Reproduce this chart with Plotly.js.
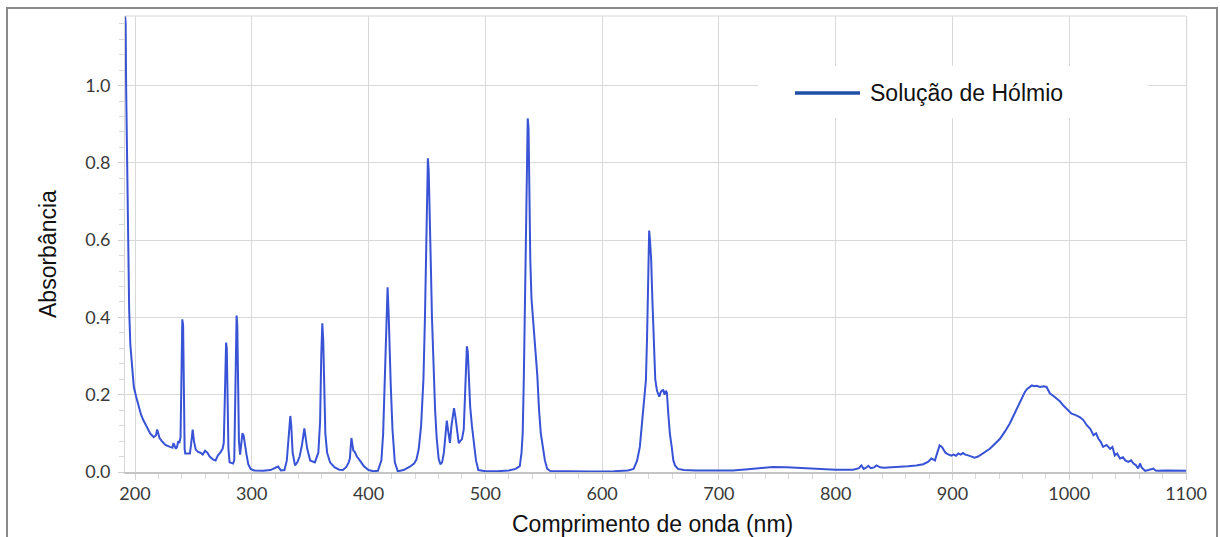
<!DOCTYPE html>
<html>
<head>
<meta charset="utf-8">
<script src="https://cdn.plot.ly/plotly-3.0.1.min.js"></script>
<style>html,body{margin:0;padding:0;background:#fff;}#chart{width:1220px;height:537px;}</style>
</head>
<body>
<div id="chart"></div>
<script>
// Wavelength (nm) and absorbance
const wavelength = [
191.5,192,192.4,193,193.4,194,195,196,197.5,199,201,203,205,207,210,213,216,218,219,220,221,223,226,230,232,233,234,235,236,237,238,239,239.8,240.5,241.2,241.8,242.5,243,247,248,249.4,250.5,252,254,256,258,260,262,264,267,269,271,273,275,276,277,278,278.6,279.3,280,281,284,285,286,287,287.6,288.4,289,290,291,292,293,294,295.5,297,299,302,310,316,320,322.5,325,328,330,331.5,333,333.8,335,337,339,341,343,345,346,347.5,350,354,357,358.5,359.5,360.4,361.2,362,363,364.5,367,371,375,378,381,383,384,385.3,386,387,388,390,392.5,396,400,404,408,411,412.5,413.5,415,416.3,417.2,418,419,420.5,422.5,425,430,435,439,441,443,445,447,448.3,449.3,450.3,450.8,451.5,452.3,453.3,454.3,455.4,457,458.3,460,461.5,463,464.5,466,467,468,469,469.7,471,472.5,473.2,474.5,475.5,477.2,478.5,480,481.5,482.5,483.5,484.2,485,486,487,488.5,490,492,494,500,510,520,526,529.5,531,532,533,534,535.3,536.3,537,537.8,538.5,539.5,540.5,541.5,543,544.5,546,547.5,549,551,553,556,570,590,610,622,627,630,632.3,635,637.5,638.5,639,639.5,640.3,641,642,643,644,645.5,647,648,649,650,651,652.3,653.5,654.5,655.5,656.7,658,659.6,661,662.4,665,670,680,700,712,725,735,746,758,765,770,780,790,800,815,820,822,824,826,828,830,833,835,838,841,848,855,862,869,875,879,882,885,887,889,891,892,894,896,899,901,903,905,907,909,911,913.5,916,919,922,925,928,932,936,940.7,945,949,953,956.4,959,962,964,966.4,968,970,972,975,978,980.6,983.5,986,989,992,995,997.7,1000,1002,1005,1009,1012,1015,1018,1020.8,1023,1025,1027,1029,1032,1035,1037,1039,1041,1043.5,1046,1048,1050.6,1053,1055,1057,1059,1060.6,1062,1065,1068,1072,1074,1076,1083,1090,1100
];
const absorbance = [
1.18,1.16,1.0,0.84,0.7,0.55,0.42,0.33,0.26,0.22,0.195,0.17,0.15,0.135,0.118,0.1,0.09,0.095,0.11,0.1,0.088,0.08,0.07,0.065,0.063,0.075,0.068,0.06,0.065,0.08,0.075,0.09,0.25,0.395,0.38,0.2,0.06,0.048,0.048,0.07,0.11,0.08,0.058,0.052,0.05,0.045,0.055,0.05,0.04,0.032,0.03,0.043,0.05,0.06,0.075,0.2,0.335,0.32,0.22,0.06,0.025,0.022,0.03,0.25,0.405,0.38,0.2,0.08,0.045,0.085,0.1,0.095,0.07,0.045,0.02,0.008,0.004,0.003,0.005,0.01,0.014,0.004,0.005,0.03,0.08,0.145,0.12,0.05,0.017,0.025,0.04,0.07,0.113,0.09,0.06,0.03,0.025,0.05,0.13,0.3,0.385,0.34,0.2,0.1,0.05,0.025,0.012,0.006,0.005,0.013,0.025,0.035,0.088,0.07,0.055,0.053,0.04,0.03,0.015,0.005,0.002,0.003,0.03,0.1,0.2,0.38,0.478,0.41,0.3,0.225,0.11,0.025,0.002,0.005,0.013,0.022,0.032,0.06,0.12,0.24,0.4,0.6,0.8,0.812,0.78,0.7,0.54,0.4,0.28,0.16,0.09,0.035,0.02,0.025,0.05,0.1,0.133,0.11,0.085,0.075,0.12,0.15,0.165,0.14,0.11,0.075,0.08,0.085,0.11,0.2,0.3,0.325,0.31,0.24,0.17,0.12,0.08,0.03,0.005,0.002,0.002,0.004,0.008,0.015,0.05,0.1,0.25,0.45,0.75,0.915,0.89,0.7,0.55,0.45,0.4,0.37,0.31,0.25,0.16,0.1,0.07,0.03,0.008,0.002,0.002,0.001,0.002,0.004,0.008,0.03,0.065,0.15,0.237,0.35,0.45,0.57,0.625,0.6,0.55,0.45,0.34,0.24,0.21,0.2,0.195,0.205,0.21,0.212,0.2,0.21,0.205,0.15,0.1,0.065,0.03,0.017,0.008,0.005,0.004,0.004,0.004,0.007,0.009,0.013,0.012,0.011,0.009,0.007,0.006,0.006,0.006,0.01,0.017,0.008,0.011,0.016,0.01,0.012,0.017,0.012,0.011,0.012,0.013,0.015,0.017,0.02,0.026,0.035,0.03,0.05,0.069,0.065,0.06,0.05,0.046,0.042,0.045,0.042,0.048,0.045,0.049,0.045,0.043,0.04,0.037,0.04,0.046,0.052,0.06,0.072,0.086,0.105,0.125,0.15,0.172,0.19,0.207,0.215,0.22,0.224,0.222,0.223,0.22,0.222,0.22,0.203,0.198,0.19,0.183,0.172,0.164,0.158,0.151,0.148,0.142,0.135,0.121,0.112,0.095,0.1,0.086,0.078,0.065,0.07,0.06,0.065,0.043,0.048,0.035,0.038,0.03,0.026,0.03,0.022,0.018,0.009,0.022,0.012,0.003,0.005,0.009,0.004,0.003,0.004,0.003,0.003
];
const xTickValues = [200,300,400,500,600,700,800,900,1000,1100];
const yTickValues = [0.0,0.2,0.4,0.6,0.8,1.0];
const seriesName = 'Solução de Hólmio';
const xTitle = 'Comprimento de onda (nm)';
const yTitle = 'Absorbância';

const trace = {
  x: wavelength, y: absorbance, type: 'scatter', mode: 'lines',
  name: seriesName, showlegend: false,
  line: {color: '#3953d6', width: 2}
};

const W = 1220, H = 537;
const L = 125, R = 34, T = 16, B = 65;
const pw = W - L - R, ph = H - T - B;
const px = v => (v - L) / pw;          // pixel x -> paper
const py = v => (H - B - v) / ph;      // pixel y -> paper

const layout = {
  width: W, height: H,
  margin: {l: L, r: R, t: T, b: B},
  paper_bgcolor: '#ffffff', plot_bgcolor: '#ffffff',
  showlegend: false,
  xaxis: {
    range: [191.44, 1100], tickvals: xTickValues, ticktext: xTickValues.map(String),
    showgrid: true, gridcolor: '#d9d9d9', gridwidth: 1,
    showline: true, linecolor: '#c4c4c4', linewidth: 2, mirror: false,
    zeroline: false,
    ticks: 'outside', ticklen: 6, tickcolor: '#d0d0d0', tickwidth: 1,
    ticklabelstandoff: -2,
    minor: {dtick: 20, ticks: 'outside', ticklen: 5, tickcolor: '#d8d8d8', showgrid: false},
    tickfont: {family: 'Lato, sans-serif', size: 18, color: '#3a3a3a'},
    fixedrange: true
  },
  yaxis: {
    range: [0, 1.18], tickvals: yTickValues, ticktext: yTickValues.map(v => v.toFixed(1)),
    showgrid: true, gridcolor: '#d9d9d9', gridwidth: 1,
    showline: true, linecolor: '#d6d6d6', linewidth: 1, mirror: true,
    zeroline: false,
    ticks: 'outside', ticklen: 6, tickcolor: '#d0d0d0', tickwidth: 1,
    ticklabelstandoff: 4,
    minor: {dtick: 0.04, ticks: 'outside', ticklen: 5, tickcolor: '#d8d8d8', showgrid: false},
    tickfont: {family: 'Lato, sans-serif', size: 18, color: '#3a3a3a'},
    fixedrange: true
  },
  shapes: [
    {type: 'line', xref: 'paper', yref: 'paper', x0: 0, x1: 1, y0: 1, y1: 1,
     line: {color: '#d6d6d6', width: 1}},
    {type: 'rect', xref: 'paper', yref: 'paper', x0: px(7), x1: px(1217), y0: py(560), y1: py(8),
     line: {color: '#8a8a8a', width: 2}, fillcolor: 'rgba(0,0,0,0)'},
    {type: 'rect', xref: 'paper', yref: 'paper', x0: px(758), x1: px(1148), y0: py(118), y1: py(66),
     line: {width: 0}, fillcolor: '#ffffff', layer: 'above'},
    {type: 'line', xref: 'paper', yref: 'paper', x0: px(795), x1: px(860), y0: py(93), y1: py(93),
     line: {color: '#1f4fa8', width: 3.5}}
  ],
  annotations: [
    {text: seriesName, xref: 'paper', yref: 'paper', x: px(868), y: py(93),
     xanchor: 'left', yanchor: 'middle', showarrow: false,
     font: {family: 'Liberation Sans, Arial, sans-serif', size: 23, color: '#111111'}},
    {text: xTitle, xref: 'paper', yref: 'paper', x: px(652), y: py(524),
     xanchor: 'center', yanchor: 'middle', showarrow: false,
     font: {family: 'Liberation Sans, Arial, sans-serif', size: 23, color: '#111111'}},
    {text: yTitle, xref: 'paper', yref: 'paper', x: px(48), y: py(254), textangle: -90,
     xanchor: 'center', yanchor: 'middle', showarrow: false,
     font: {family: 'Liberation Sans, Arial, sans-serif', size: 23, color: '#111111'}}
  ]
};

Plotly.newPlot('chart', [trace], layout, {displayModeBar: false, staticPlot: true});
</script>
</body>
</html>
